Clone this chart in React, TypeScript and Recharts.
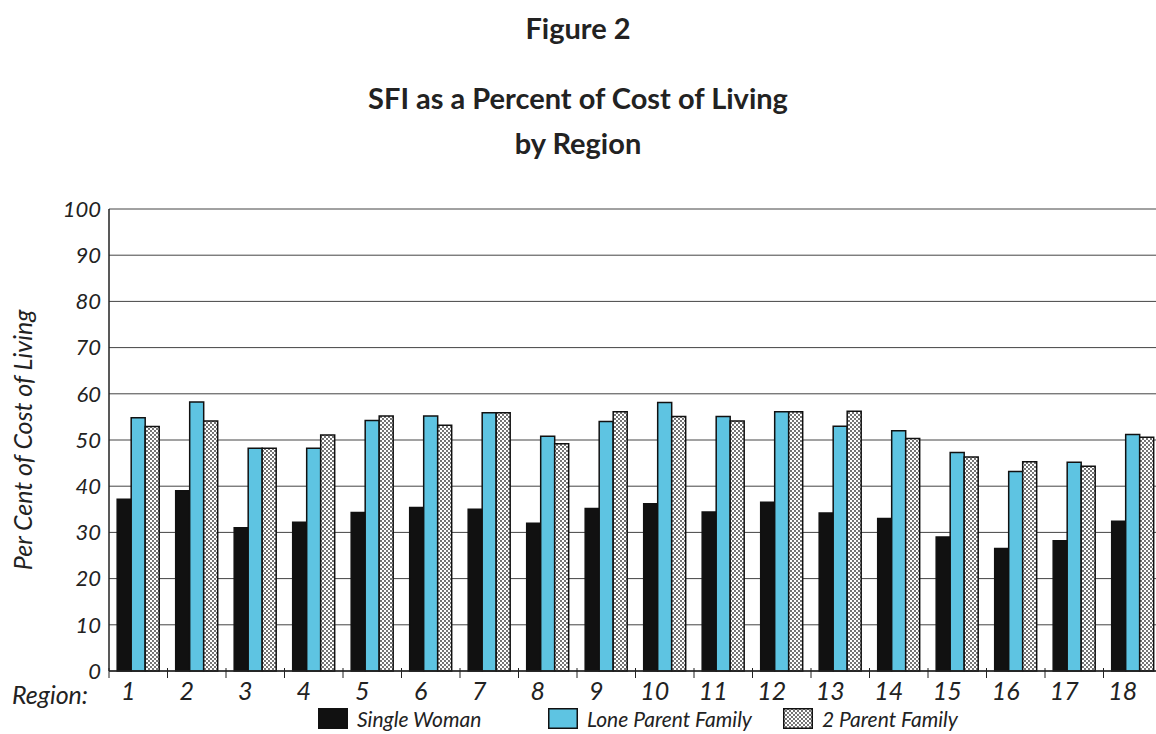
import React from "react";
import {
  BarChart,
  Bar,
  XAxis,
  YAxis,
  CartesianGrid,
  Legend,
} from "recharts";

const regions = ["1", "2", "3", "4", "5", "6", "7", "8", "9", "10", "11", "12", "13", "14", "15", "16", "17", "18"];

const singleWoman = [37.2, 39.0, 31.0, 32.2, 34.3, 35.4, 35.0, 32.0, 35.2, 36.2, 34.4, 36.5, 34.2, 33.0, 29.0, 26.5, 28.2, 32.4];
const loneParent = [54.8, 58.2, 48.2, 48.2, 54.2, 55.2, 55.9, 50.8, 54.0, 58.1, 55.1, 56.1, 53.0, 52.0, 47.3, 43.2, 45.2, 51.2];
const twoParent = [52.9, 54.1, 48.2, 51.1, 55.2, 53.2, 55.9, 49.2, 56.1, 55.1, 54.1, 56.1, 56.2, 50.3, 46.3, 45.3, 44.3, 50.6];

const yTicks = [0, 10, 20, 30, 40, 50, 60, 70, 80, 90, 100];

const data = regions.map((r, i) => ({
  region: r,
  single: singleWoman[i],
  lone: loneParent[i],
  two: twoParent[i],
}));

const BLUE = "#5ec4e2";
const FONT = "Lato, 'Open Sans', sans-serif";

function RegionTick(props: any) {
  const { x, y, payload, width, visibleTicksCount } = props;
  const band = width && visibleTicksCount ? width / visibleTicksCount : 58.5;
  const bx = x - band / 2;
  return (
    <g>
      <line x1={bx} x2={bx} y1={y - 3} y2={y + 7} stroke="#222" strokeWidth={1} />
      <text
        x={x - 10}
        y={y + 29}
        textAnchor="middle"
        fontFamily={FONT}
        fontStyle="italic"
        fontSize={25}
        fill="#222"
      >
        {payload.value}
      </text>
    </g>
  );
}

function LegendBox() {
  const items = [
    { key: "s", label: "Single Woman", fill: "#111", left: 318 },
    { key: "l", label: "Lone Parent Family", fill: BLUE, left: 548 },
    { key: "t", label: "2 Parent Family", fill: "url(#legendDots)", left: 783 },
  ];
  return (
    <div style={{ position: "relative", height: 26 }}>
      <svg width={0} height={0} style={{ position: "absolute" }}>
        <defs>
          <pattern id="legendDots" width={4} height={4} patternUnits="userSpaceOnUse">
            <rect width={4} height={4} fill="#fff" />
            <circle cx={1} cy={1} r={0.9} fill="#333" />
            <circle cx={3} cy={3} r={0.9} fill="#333" />
          </pattern>
        </defs>
      </svg>
      {items.map((it) => (
        <div
          key={it.key}
          style={{
            position: "absolute",
            left: it.left,
            top: 0,
            display: "flex",
            alignItems: "center",
            gap: 9,
            fontFamily: FONT,
            fontStyle: "italic",
            fontSize: 21,
            color: "#222",
            whiteSpace: "nowrap",
          }}
        >
          <svg width={30} height={21}>
            <rect x={0.75} y={0.75} width={28.5} height={19.5} fill={it.fill} stroke="#111" strokeWidth={1.5} />
          </svg>
          <span>{it.label}</span>
        </div>
      ))}
    </div>
  );
}

export default function App() {
  return (
    <div
      style={{
        position: "absolute",
        left: 0,
        top: 0,
        width: 1156,
        height: 734,
        overflow: "hidden",
        background: "#fff",
        fontFamily: FONT,
      }}
    >
      <div style={{ position: "absolute", top: 10, width: 1156, textAlign: "center", fontWeight: 700, fontSize: 29, color: "#222" }}>
        Figure 2
      </div>
      <div style={{ position: "absolute", top: 75, width: 1156, textAlign: "center", fontWeight: 700, fontSize: 29, color: "#222", lineHeight: "45px" }}>
        SFI as a Percent of Cost of Living
        <br />
        by Region
      </div>
      <div
        style={{
          position: "absolute",
          left: 22,
          top: 440,
          transform: "translate(-50%, -50%) rotate(-90deg)",
          whiteSpace: "nowrap",
          fontStyle: "italic",
          fontSize: 25,
          color: "#222",
        }}
      >
        Per Cent of Cost of Living
      </div>
      <div style={{ position: "absolute", left: 12, top: 679, fontStyle: "italic", fontSize: 25, color: "#222" }}>
        Region:
      </div>
      <div style={{ position: "absolute", left: 0, top: 0 }}>
        <BarChart
          width={1162}
          height={734}
          data={data}
          margin={{ top: 209, right: 0, left: 49, bottom: 33 }}
          barCategoryGap="14%"
          barGap={0}
        >
          <defs>
            <pattern id="dots" width={4} height={4} patternUnits="userSpaceOnUse">
              <rect width={4} height={4} fill="#fff" />
              <circle cx={1} cy={1} r={0.9} fill="#333" />
              <circle cx={3} cy={3} r={0.9} fill="#333" />
            </pattern>
          </defs>
          <CartesianGrid vertical={false} stroke="#444" strokeWidth={1} />
          <XAxis
            dataKey="region"
            interval={0}
            tickLine={false}
            tickSize={0}
            tickMargin={0}
            height={30}
            axisLine={{ stroke: "#222", strokeWidth: 1.5 }}
            tick={<RegionTick />}
          />
          <YAxis
            width={60}
            domain={[0, 100]}
            ticks={yTicks}
            interval={0}
            tickLine={false}
            tickMargin={2}
            axisLine={{ stroke: "#222", strokeWidth: 1.5 }}
            tick={{ fill: "#222", fontSize: 22, fontStyle: "italic", fontFamily: FONT }}
          />
          <Legend
            verticalAlign="middle"
            align="center"
            layout="horizontal"
            wrapperStyle={{ top: 706, left: 0, width: 1156 }}
            content={() => <LegendBox />}
          />
          <Bar dataKey="single" name="Single Woman" fill="#111" stroke="#111" strokeWidth={1.5} isAnimationActive={false} />
          <Bar dataKey="lone" name="Lone Parent Family" fill={BLUE} stroke="#111" strokeWidth={1.5} isAnimationActive={false} />
          <Bar dataKey="two" name="2 Parent Family" fill="url(#dots)" stroke="#111" strokeWidth={1.5} isAnimationActive={false} />
        </BarChart>
      </div>
    </div>
  );
}
